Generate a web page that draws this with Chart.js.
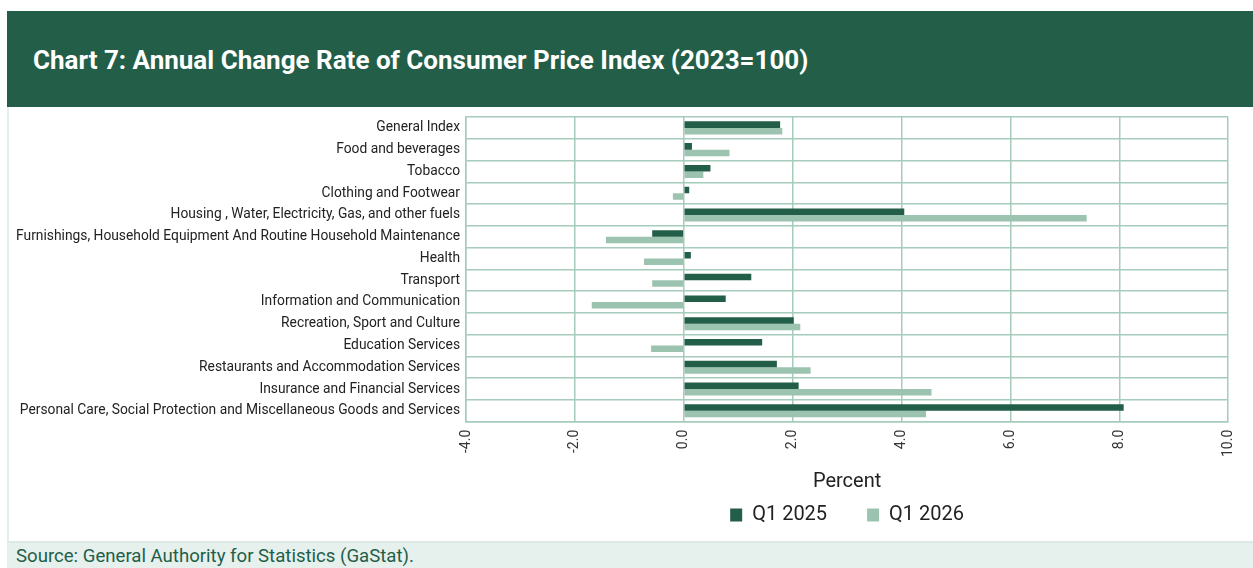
<!DOCTYPE html>
<html>
<head>
<meta charset="utf-8">
<script src="https://cdn.jsdelivr.net/npm/chart.js@4"></script>
<style>
    html, body { margin: 0; padding: 0; background: #fff; }
    body { width: 1253px; height: 568px; position: relative; overflow: hidden; font-family: Roboto, sans-serif; }
    .header {
        position: absolute; left: 7px; top: 11px; width: 1246px; height: 96px;
        background: #235e48; color: #fff;
        font-family: Roboto, sans-serif; font-weight: bold; font-size: 26px;
        box-sizing: border-box; padding-left: 26px; line-height: 98px;
    }
    .chart-box {
        position: absolute; left: 7px; top: 107px; width: 1246px; height: 434px;
        border-left: 2px solid #e3efe9; box-sizing: border-box;
    }
    .footer {
        position: absolute; left: 7px; top: 541px; width: 1246px; height: 27px;
        background: #e6f0ec; border-top: 2px solid #dde9e3; box-sizing: border-box;
        color: #1f5e4a; font-size: 18.6px; padding-left: 9px; line-height: 27px;
    }
</style>
</head>
<body>
<div class="header">Chart 7: Annual Change Rate of Consumer Price Index (2023=100)</div>
<div class="chart-box"><canvas id="myChart" width="1244" height="434"></canvas></div>
<div class="footer">Source: General Authority for Statistics (GaStat).</div>
<script>
// Chart data
const categories = [
    'General Index',
    'Food and beverages',
    'Tobacco',
    'Clothing and Footwear',
    'Housing , Water, Electricity, Gas, and other fuels',
    'Furnishings, Household Equipment And Routine Household Maintenance',
    'Health',
    'Transport',
    'Information and Communication',
    'Recreation, Sport and Culture',
    'Education Services',
    'Restaurants and Accommodation Services',
    'Insurance and Financial Services',
    'Personal Care, Social Protection and Miscellaneous Goods and Services'
];
const seriesNames = ['Q1 2025', 'Q1 2026'];
const q1_2025 = [1.77, 0.15, 0.49, 0.10, 4.05, -0.58, 0.13, 1.24, 0.77, 2.02, 1.44, 1.71, 2.11, 8.08];
const q1_2026 = [1.81, 0.84, 0.36, -0.20, 7.40, -1.43, -0.73, -0.58, -1.69, 2.14, -0.60, 2.33, 4.55, 4.45];
const xTicks = [-4, -2, 0, 2, 4, 6, 8, 10];

const darkGreen = '#235e48';
const lightGreen = '#9cc3b0';
const gridGreen = '#a6ccbb';

const ctx = document.getElementById('myChart').getContext('2d');
const myChart = new Chart(ctx, {
    type: 'bar',
    data: {
        labels: categories,
        datasets: [
            { label: seriesNames[0], data: q1_2025, backgroundColor: darkGreen, categoryPercentage: 0.6, barPercentage: 1 },
            { label: seriesNames[1], data: q1_2026, backgroundColor: lightGreen, categoryPercentage: 0.6, barPercentage: 1 }
        ]
    },
    options: {
        indexAxis: 'y',
        responsive: false,
        animation: false,
        layout: { padding: { top: 0, right: 15, bottom: 6, left: 0 } },
        scales: {
            x: {
                min: xTicks[0],
                max: xTicks[xTicks.length - 1],
                afterBuildTicks: (axis) => { axis.ticks = xTicks.map(v => ({ value: v })); },
                grid: { color: gridGreen, lineWidth: 1.5, drawTicks: false },
                border: { color: gridGreen, width: 1.5 },
                ticks: {
                    minRotation: 90, maxRotation: 90, padding: 8,
                    color: '#333', font: { family: 'Roboto', size: 14 },
                    callback: (v) => Number(v).toFixed(1)
                },
                // title overlaps the legend box so the legend can keep wide item spacing
                title: {
                    display: true, text: 'Percent', color: '#222',
                    font: { family: 'Roboto', size: 20 }, padding: { top: 5, bottom: -29 }
                }
            },
            y: {
                grid: { color: gridGreen, lineWidth: 1.5, drawTicks: false, offset: true },
                border: { color: gridGreen, width: 1.5 },
                ticks: { color: '#222', padding: 6, font: { family: 'Roboto', size: 13.8 }, autoSkip: false },
                afterFit: (axis) => { axis.width = 457; axis.paddingTop = 10; }
            }
        },
        plugins: {
            legend: {
                position: 'bottom',
                fullSize: false,
                labels: {
                    color: '#222', font: { family: 'Roboto', size: 20 },
                    boxWidth: 12, boxHeight: 13, padding: 40
                }
            },
            tooltip: { enabled: false }
        }
    }
});
</script>
</body>
</html>
